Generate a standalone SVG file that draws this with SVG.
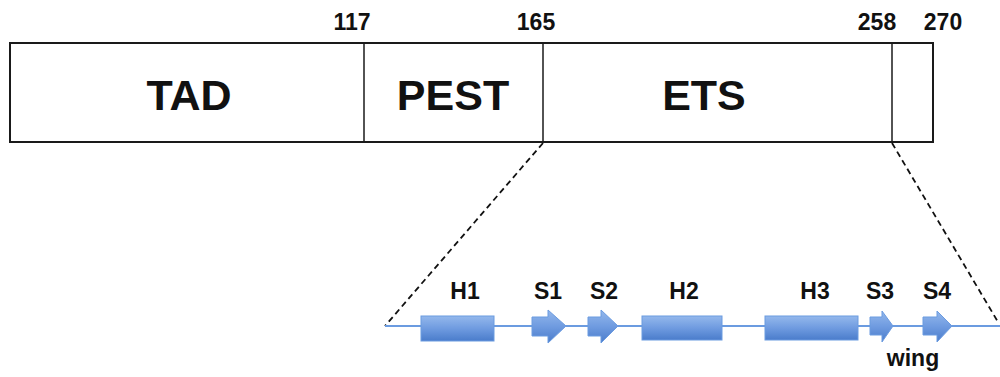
<svg xmlns="http://www.w3.org/2000/svg" width="1000" height="377" viewBox="0 0 1000 377">
  <defs>
    <linearGradient id="sse" x1="0" y1="0" x2="0" y2="1">
      <stop offset="0" stop-color="#94b8ec"/>
      <stop offset="0.5" stop-color="#6f9be0"/>
      <stop offset="1" stop-color="#4a7ccb"/>
    </linearGradient>
    <style>
      .dom { fill: #ffffff; stroke: #1a1a1a; stroke-width: 2; }
      .div { stroke: #1a1a1a; stroke-width: 1.5; }
      .big { font-family: "Liberation Sans", Arial, sans-serif; font-weight: bold; font-size: 43px; fill: #111; text-anchor: middle; }
      .lbl { font-family: "Liberation Sans", Arial, sans-serif; font-weight: bold; font-size: 23px; fill: #111; text-anchor: middle; }
      .zoom { stroke: #111; stroke-width: 1.8; stroke-dasharray: 6 4; fill: none; }
      .chain { stroke: #6b9be0; stroke-width: 2; fill: none; }
      .sse { fill: url(#sse); stroke: #6b9be0; stroke-width: 1; }
    </style>
  </defs>

  <!-- domain bar -->
  <g id="domains">
    <rect class="dom" x="10" y="43" width="923" height="99"/>
    <line class="div" x1="364" y1="43" x2="364" y2="142"/>
    <line class="div" x1="543" y1="43" x2="543" y2="142"/>
    <line class="div" x1="892" y1="43" x2="892" y2="142"/>
  </g>
  <g id="tad"><text class="big" x="189" y="110">TAD</text></g>
  <g id="pest"><text class="big" x="453" y="110">PEST</text></g>
  <g id="ets"><text class="big" x="704" y="110">ETS</text></g>

  <!-- residue numbers -->
  <g id="positions">
    <text class="lbl" x="352" y="30">117</text>
    <text class="lbl" x="536" y="30">165</text>
    <text class="lbl" x="877" y="30">258</text>
    <text class="lbl" x="943" y="30">270</text>
  </g>

  <!-- zoom-in lines and backbone -->
  <g id="connectors">
    <line class="zoom" x1="543" y1="143" x2="385" y2="326"/>
    <line class="zoom" x1="892" y1="143" x2="998" y2="322"/>
    <line class="chain" x1="385" y1="326" x2="1000" y2="326"/>
  </g>

  <!-- secondary structure elements -->
  <g id="h1">
    <rect class="sse" x="421" y="316" width="73" height="25"/>
    <text class="lbl" x="465" y="299">H1</text>
  </g>
  <g id="s1">
    <polygon class="sse" points="532,317 548,317 548,310 566,326 548,343 548,336 532,336"/>
    <text class="lbl" x="548" y="299">S1</text>
  </g>
  <g id="s2">
    <polygon class="sse" points="588,317 601,317 601,310 618,326 601,343 601,336 588,336"/>
    <text class="lbl" x="604" y="299">S2</text>
  </g>
  <g id="h2">
    <rect class="sse" x="642" y="316" width="80" height="24"/>
    <text class="lbl" x="684" y="299">H2</text>
  </g>
  <g id="h3">
    <rect class="sse" x="765" y="316" width="93" height="24"/>
    <text class="lbl" x="815" y="299">H3</text>
  </g>
  <g id="s3">
    <polygon class="sse" points="870,317 882,317 882,311 893,326 882,342 882,335 870,335"/>
    <text class="lbl" x="880" y="299">S3</text>
  </g>
  <g id="s4">
    <polygon class="sse" points="923,317 937,317 937,311 952,326 937,342 937,335 923,335"/>
    <text class="lbl" x="937" y="299">S4</text>
  </g>
  <g id="wing"><text class="lbl" x="913" y="366">wing</text></g>
</svg>
